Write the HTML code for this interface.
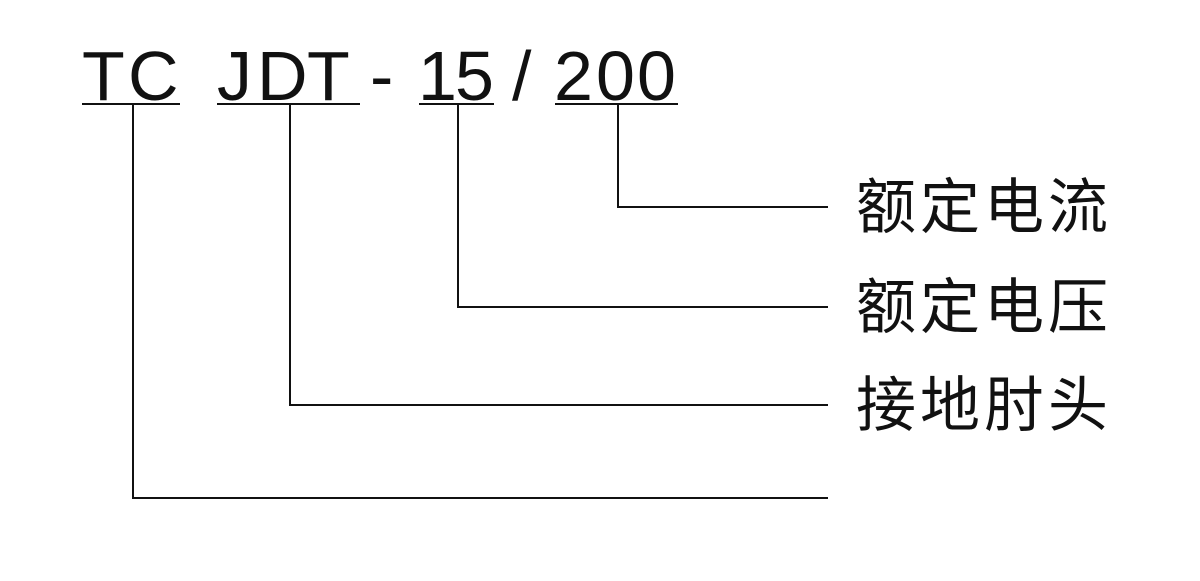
<html><head><style>
body{margin:0;width:1200px;height:581px;background:#fff;position:relative;overflow:hidden;font-family:"Liberation Sans",Arial,sans-serif;color:#111}
.c{position:absolute;font-size:70px;line-height:1;top:41px}
.l{position:absolute;background:#111}
.z{position:absolute;font-family:"Liberation Sans","Noto Sans CJK SC",sans-serif;font-size:60px;line-height:1;left:856px;letter-spacing:4px}
</style></head><body>
<div class="c" style="left:82px">T</div><div class="c" style="left:128px">C</div>
<div class="c" style="left:217px">J</div><div class="c" style="left:257px">D</div><div class="c" style="left:307px">T</div>
<div class="c" style="left:370px">-</div>
<div class="c" style="left:418px">1</div><div class="c" style="left:455px">5</div>
<div class="c" style="left:512px">/</div>
<div class="c" style="left:554px">2</div><div class="c" style="left:596px">0</div><div class="c" style="left:637px">0</div>
<div class="l" style="left:82px;top:103px;width:98px;height:2px"></div>
<div class="l" style="left:217px;top:103px;width:143px;height:2px"></div>
<div class="l" style="left:419px;top:103px;width:75px;height:2px"></div>
<div class="l" style="left:555px;top:103px;width:123px;height:2px"></div>
<div class="l" style="left:617px;top:104px;width:2px;height:103px"></div>
<div class="l" style="left:617px;top:206px;width:211px;height:2px"></div>
<div class="l" style="left:457px;top:104px;width:2px;height:203px"></div>
<div class="l" style="left:457px;top:306px;width:371px;height:2px"></div>
<div class="l" style="left:289px;top:104px;width:2px;height:301px"></div>
<div class="l" style="left:289px;top:404px;width:539px;height:2px"></div>
<div class="l" style="left:132px;top:104px;width:2px;height:394px"></div>
<div class="l" style="left:132px;top:497px;width:696px;height:2px"></div>
<div class="z" style="top:178px">额定电流</div>
<div class="z" style="top:278px">额定电压</div>
<div class="z" style="top:376px">接地肘头</div>
</body></html>
